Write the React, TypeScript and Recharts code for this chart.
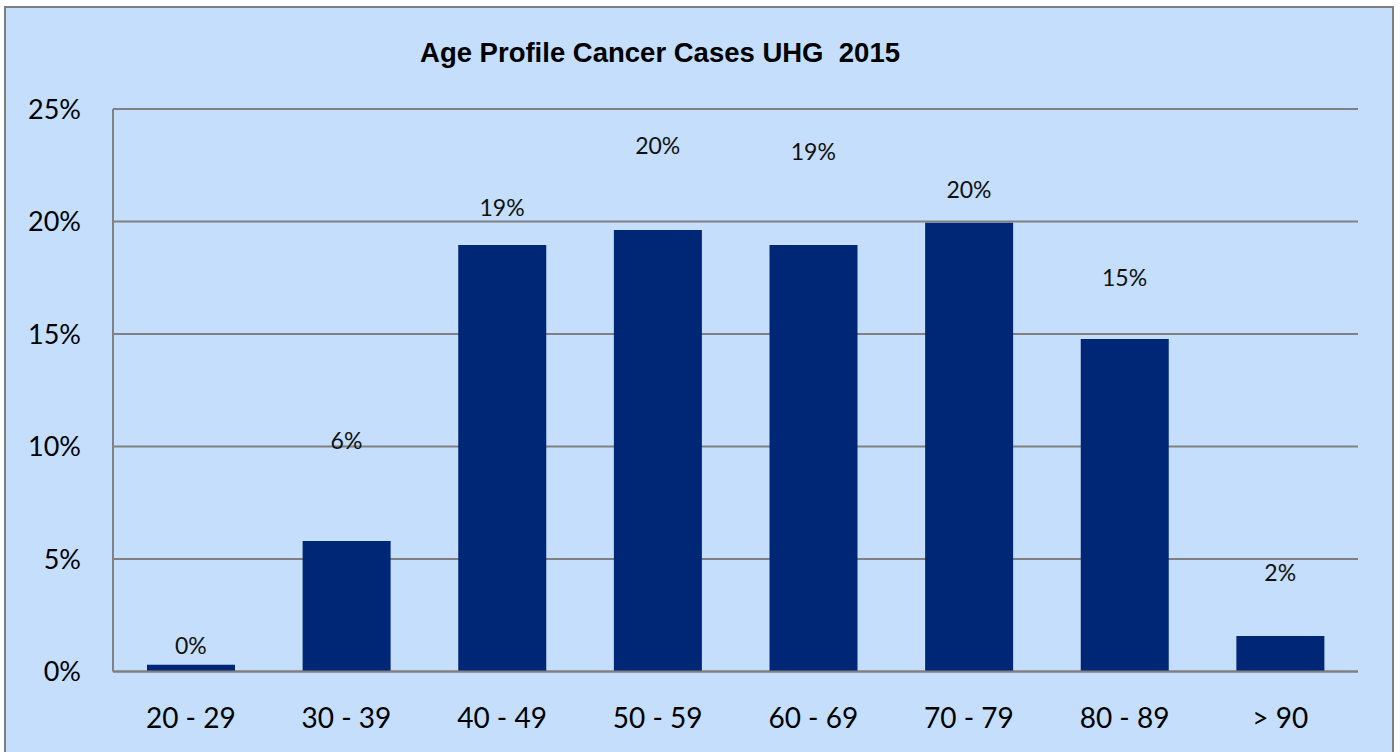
import React from 'react';
import { ComposedChart, Bar, Line, XAxis, YAxis, CartesianGrid, LabelList } from 'recharts';

const ageGroups = ['20 - 29', '30 - 39', '40 - 49', '50 - 59', '60 - 69', '70 - 79', '80 - 89', '> 90'];
const sharePct = [0.3, 5.8, 18.96, 19.62, 18.96, 19.95, 14.78, 1.58];
// height (in % units) at which Excel placed each data label
const labelAnchorPct = [1.15, 10.24, 20.6, 23.37, 23.1, 21.4, 17.48, 4.38];
const yTicks = [0, 5, 10, 15, 20, 25];
const chartTitle = 'Age Profile Cancer Cases UHG  2015';

const data = ageGroups.map((g, i) => ({ group: g, share: sharePct[i], anchor: labelAnchorPct[i] }));

const FONT = 'Lato, "Open Sans", sans-serif';
const GRID = '#808080';

export default function App() {
  return (
    <div style={{ position: 'absolute', left: 0, top: 0, width: 1400, height: 752, overflow: 'hidden' }}>
      <div
        style={{
          position: 'absolute',
          left: 4,
          top: 6,
          width: 1386,
          height: 780,
          border: '2.5px solid #7f7f7f',
          background: '#C4DEFB',
        }}
      />
      <div style={{ position: 'absolute', left: 0, top: 0 }}>
        <ComposedChart
          width={1400}
          height={752}
          data={data}
          margin={{ top: 109, right: 42, bottom: 0, left: 0 }}
        >
          <CartesianGrid vertical={false} stroke={GRID} strokeWidth={2} />
          <Bar dataKey="share" fill="#002776" barSize={88} isAnimationActive={false} />
          <Line
            dataKey="anchor"
            stroke="none"
            dot={false}
            activeDot={false}
            isAnimationActive={false}
          >
            <LabelList
              dataKey="share"
              position="center"
              formatter={(v: number) => `${Math.round(v)}%`}
              style={{ fontFamily: FONT, fontSize: 23, fill: '#111' }}
            />
          </Line>
          <XAxis
            dataKey="group"
            height={80.5}
            tickSize={0}
            tickMargin={37}
            axisLine={{ stroke: GRID, strokeWidth: 2 }}
            tick={{ fontFamily: FONT, fontSize: 28, fill: '#000' }}
            interval={0}
          />
          <YAxis
            width={113}
            domain={[0, 25]}
            ticks={yTicks}
            tickSize={0}
            tickMargin={32}
            tickFormatter={(v: number) => `${v}%`}
            axisLine={{ stroke: GRID, strokeWidth: 2 }}
            tick={{ fontFamily: FONT, fontSize: 27, fill: '#000' }}
          />
        </ComposedChart>
      </div>
      <svg width={1400} height={752} style={{ position: 'absolute', left: 0, top: 0, pointerEvents: 'none' }}>
        <text
          x={660}
          y={62.3}
          textAnchor="middle"
          style={{ whiteSpace: 'pre' }}
          fontFamily='"Liberation Sans", Arial, sans-serif'
          fontWeight="bold"
          fontSize={27.5}
          fill="#000"
        >
          {chartTitle}
        </text>
      </svg>
    </div>
  );
}
